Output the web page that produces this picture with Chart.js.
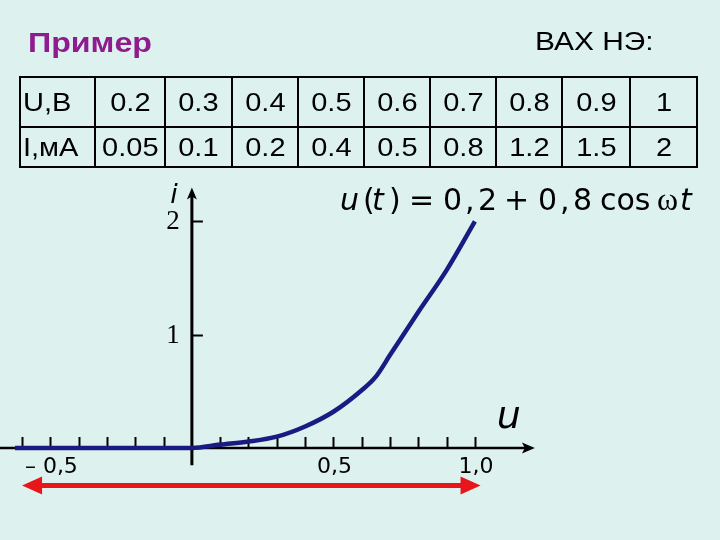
<!DOCTYPE html>
<html>
<head>
<meta charset="utf-8">
<script src="https://cdn.jsdelivr.net/npm/chart.js@4.4.0/dist/chart.umd.min.js"></script>
<style>
  html, body { margin: 0; padding: 0; }
  body {
    width: 720px; height: 540px; position: relative; overflow: hidden;
    background: #ddf2ef;
    font-family: "Liberation Sans", Arial, sans-serif;
  }
  #chart { position: absolute; left: 0; top: 0; }
  .stretch { display: inline-block; transform: scaleX(1.16); }
  #title {
    position: absolute; left: 28px; top: 29px; line-height: 1;
    font-size: 28px; font-weight: bold; color: #8e1c8e;
    transform: scaleX(1.15); transform-origin: left;
  }
  #caption {
    position: absolute; left: 535px; top: 28px; line-height: 1;
    font-size: 26px; color: #000;
    transform: scaleX(1.15); transform-origin: left;
  }
  #vax {
    position: absolute; left: 19px; top: 76px; width: 677px;
    border-collapse: collapse; table-layout: fixed;
    font-size: 25px; color: #000;
  }
  #vax td { border: 2px solid #000; padding: 0; text-align: center; vertical-align: middle; }
  #vax tr:first-child td { height: 48px; }
  #vax tr:last-child td { height: 38px; }
  #vax td.head { text-align: left; padding-left: 2px; }
  #vax td.head .stretch { transform-origin: left; }
  #formula {
    position: absolute; left: 340px; top: 183px; white-space: nowrap;
    font-family: "DejaVu Sans", Verdana, sans-serif; font-size: 30px; line-height: 1; color: #000;
  }
  #formula span { display: inline-block; }
  #formula .it { font-style: italic; }
  #formula .om { font-family: "Liberation Serif", serif; font-size: 32px; }
</style>
</head>
<body>
<canvas id="chart" width="720" height="540"></canvas>
<div id="title">Пример</div>
<div id="caption">ВАХ НЭ:</div>
<table id="vax"><colgroup id="cols"></colgroup><tbody><tr id="rowU"></tr><tr id="rowI"></tr></tbody></table>
<div id="formula">
  <span class="it" style="width:23px">u</span><span style="width:9px">(</span><span class="it" style="width:17px">t</span><span style="width:20px">)</span><span style="width:34px">=</span><span style="width:22px">0</span><span style="width:13px">,</span><span style="width:26px">2</span><span style="width:34px">+</span><span style="width:22px">0</span><span style="width:13px">,</span><span style="width:27px">8</span><span style="width:57px">cos</span><span class="om" style="width:23px">ω</span><span class="it">t</span>
</div>

<script>
// table of the element (ВАХ НЭ)
const tableHeads = ["U,B", "I,мА"];
const tableU = [0.2, 0.3, 0.4, 0.5, 0.6, 0.7, 0.8, 0.9, 1];
const tableI = [0.05, 0.1, 0.2, 0.4, 0.5, 0.8, 1.2, 1.5, 2];

// curve i(u)
const curveU = [-0.625, 0, 0.1, 0.2, 0.3, 0.4, 0.5, 0.6, 0.65, 0.7, 0.8, 0.9, 1.0];
const curveI = [0, 0, 0.03, 0.057, 0.1, 0.19, 0.32, 0.51, 0.63, 0.82, 1.2, 1.57, 2.0];

// axes
const xTicks = [-0.6, -0.5, -0.4, -0.3, -0.2, -0.1, 0.1, 0.2, 0.3, 0.4, 0.5, 0.6, 0.7, 0.8, 0.9, 1.0];
const xLabelAt = [-0.5, 0.5, 1.0];
const xLabelText = ["– 0,5", "0,5", "1,0"];
const yTicks = [1, 2];
const yLabelText = ["1", "2"];

// swing of u(t) = 0,2 + 0,8 cos wt
const swingU = [-0.6, 1.02];
const swingI = -0.33;

// build table
const colWidths = [75, 70, 67, 66, 66, 66, 66, 66, 68, 67];
const cols = document.getElementById("cols");
colWidths.forEach((w) => {
  const c = document.createElement("col");
  c.style.width = w + "px";
  cols.appendChild(c);
});
const fillRow = (id, head, vals) => {
  const tr = document.getElementById(id);
  const cells = [head, ...vals.map(String)];
  cells.forEach((t, k) => {
    const td = document.createElement("td");
    if (k === 0) td.className = "head";
    td.innerHTML = `<span class="stretch">${t}</span>`;
    tr.appendChild(td);
  });
};
fillRow("rowU", tableHeads[0], tableU);
fillRow("rowI", tableHeads[1], tableI);

const NAVY = "#1a1a82";
const RED = "#e8161b";

const axesPlugin = {
  id: "axes",
  beforeDatasetsDraw(chart) {
    const { ctx } = chart;
    const { x, y } = chart.scales;
    const x0 = x.getPixelForValue(0);
    const y0 = y.getPixelForValue(0);
    ctx.save();
    ctx.strokeStyle = "#000";
    ctx.fillStyle = "#000";

    // u axis
    const xTip = x.getPixelForValue(1.212);
    ctx.lineWidth = 2.5;
    ctx.beginPath();
    ctx.moveTo(0, y0);
    ctx.lineTo(xTip - 6, y0);
    ctx.stroke();
    ctx.beginPath();
    ctx.moveTo(xTip, y0);
    ctx.lineTo(xTip - 13, y0 - 5.5);
    ctx.lineTo(xTip - 10, y0);
    ctx.lineTo(xTip - 13, y0 + 5.5);
    ctx.closePath();
    ctx.fill();

    // i axis
    const yTop = y.getPixelForValue(2.3);
    const yBot = y.getPixelForValue(-0.153);
    ctx.lineWidth = 3;
    ctx.beginPath();
    ctx.moveTo(x0, yBot);
    ctx.lineTo(x0, yTop + 6);
    ctx.stroke();
    ctx.beginPath();
    ctx.moveTo(x0, yTop);
    ctx.lineTo(x0 - 5, yTop + 12);
    ctx.lineTo(x0, yTop + 9);
    ctx.lineTo(x0 + 5, yTop + 12);
    ctx.closePath();
    ctx.fill();

    // ticks
    ctx.lineWidth = 2;
    xTicks.forEach((v) => {
      const px = Math.round(x.getPixelForValue(v)) + 0.5;
      ctx.beginPath();
      ctx.moveTo(px, y0);
      ctx.lineTo(px, y0 - 11);
      ctx.stroke();
    });
    yTicks.forEach((v) => {
      const py = Math.round(y.getPixelForValue(v)) + 0.5;
      ctx.beginPath();
      ctx.moveTo(x0, py);
      ctx.lineTo(x0 + 11, py);
      ctx.stroke();
    });

    // tick labels
    ctx.textAlign = "center";
    ctx.textBaseline = "middle";
    ctx.font = '22px "DejaVu Sans", Verdana, sans-serif';
    xLabelAt.forEach((v, k) => {
      ctx.fillText(xLabelText[k], x.getPixelForValue(v) + 1, y0 + 19);
    });
    ctx.font = '27px "Liberation Serif", "Times New Roman", serif';
    yTicks.forEach((v, k) => {
      ctx.fillText(yLabelText[k], x0 - 19, y.getPixelForValue(v) + 1);
    });

    // axis names
    ctx.font = 'italic 27px "DejaVu Sans", Verdana, sans-serif';
    ctx.fillText("i", x0 - 18, yTop + 9);
    ctx.font = 'italic 38px "DejaVu Sans", Verdana, sans-serif';
    ctx.fillText("u", x.getPixelForValue(1.12), y0 - 30);
    ctx.restore();
  },
  afterDatasetsDraw(chart) {
    const { ctx } = chart;
    const { x, y } = chart.scales;
    const left = x.getPixelForValue(swingU[0]);
    const right = x.getPixelForValue(swingU[1]);
    const py = y.getPixelForValue(swingI);
    const head = 20, half = 9;
    ctx.save();
    ctx.strokeStyle = RED;
    ctx.fillStyle = RED;
    ctx.lineWidth = 5;
    ctx.beginPath();
    ctx.moveTo(left + head - 2, py);
    ctx.lineTo(right - head + 2, py);
    ctx.stroke();
    ctx.beginPath();
    ctx.moveTo(left, py);
    ctx.lineTo(left + head, py - half);
    ctx.lineTo(left + head, py + half);
    ctx.closePath();
    ctx.fill();
    ctx.beginPath();
    ctx.moveTo(right, py);
    ctx.lineTo(right - head, py - half);
    ctx.lineTo(right - head, py + half);
    ctx.closePath();
    ctx.fill();
    ctx.restore();
  },
};

new Chart(document.getElementById("chart").getContext("2d"), {
  type: "scatter",
  data: {
    datasets: [
      {
        label: "i(u)",
        data: curveU.map((u, k) => ({ x: u, y: curveI[k] })),
        showLine: true,
        borderColor: NAVY,
        borderWidth: 4.5,
        pointRadius: 0,
        cubicInterpolationMode: "monotone",
      },
    ],
  },
  options: {
    responsive: false,
    animation: false,
    devicePixelRatio: 1,
    layout: { padding: 0 },
    scales: {
      x: { type: "linear", min: -0.678, max: 1.866, display: false },
      y: { type: "linear", min: -0.812, max: 3.954, display: false },
    },
    plugins: {
      legend: { display: false },
      tooltip: { enabled: false },
    },
  },
  plugins: [axesPlugin],
});
</script>
</body>
</html>
